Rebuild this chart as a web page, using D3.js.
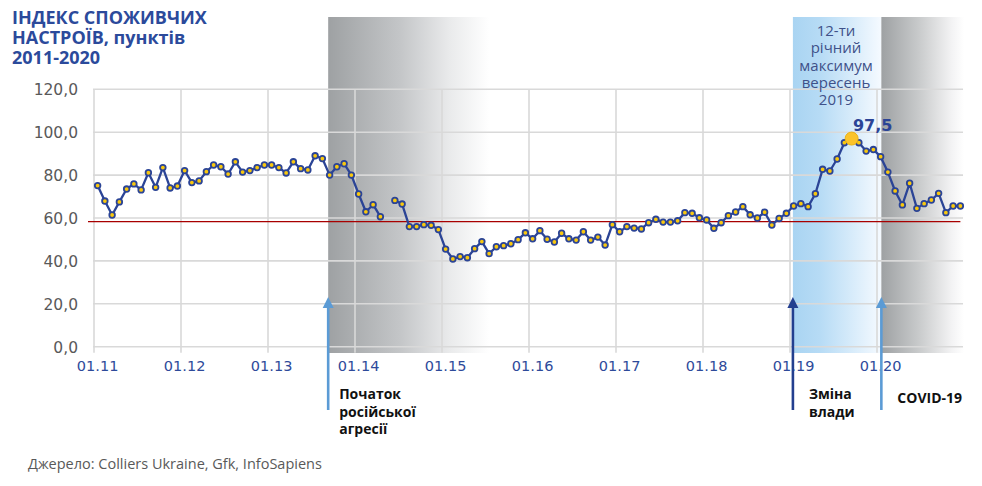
<!DOCTYPE html>
<html>
<head>
    <meta charset="utf-8">
    <title>Індекс споживчих настроїв</title>
    <style>
        body {
            margin: 0;
            background: #ffffff;
        }
        svg {
            display: block;
        }
        .grid line {
            stroke: #d9d9d9;
            stroke-width: 1.6px;
        }
        .ylab {
            font: 15.5px "DejaVu Sans", sans-serif;
            fill: #595959;
            text-anchor: end;
        }
        .xlab {
            font: 14.5px "DejaVu Sans", sans-serif;
            fill: #2e4a9a;
            text-anchor: middle;
        }
        .note {
            font: bold 14px "Open Sans", sans-serif;
            fill: #111111;
        }
    </style>
    <script src="https://cdnjs.cloudflare.com/ajax/libs/d3/7.8.5/d3.min.js"></script>
</head>
<body>
<script>
    // monthly index, Jan 2011 .. Dec 2020 (May 2014 has no value)
    const years = ['01.11', '01.12', '01.13', '01.14', '01.15', '01.16', '01.17', '01.18', '01.19', '01.20'];
    const values = [
        75.1, 67.9, 61.4, 67.5, 73.5, 75.9, 73.1, 81.1, 74.3, 83.5, 74.0, 74.9,
        82.1, 76.5, 77.3, 81.6, 84.7, 83.9, 80.5, 86.2, 81.4, 82.1, 83.5, 84.7,
        84.7, 83.5, 81.0, 86.2, 83.0, 82.4, 89.0, 87.7, 80.0, 83.9, 85.3, 80.0,
        71.2, 62.9, 66.2, 60.6, null, 68.2, 66.5, 56.0, 56.0, 56.9, 56.6, 54.6,
        45.5, 40.9, 42.0, 41.5, 45.7, 49.0, 43.4, 46.6, 47.1, 48.0, 49.9, 53.1,
        50.3, 54.1, 50.1, 48.8, 52.9, 50.3, 49.7, 53.6, 49.7, 51.1, 47.4, 56.9,
        53.6, 56.0, 55.3, 54.9, 57.8, 59.4, 58.1, 58.1, 58.7, 62.5, 62.2, 60.1,
        59.1, 55.2, 57.8, 61.1, 62.8, 65.3, 61.5, 60.0, 62.7, 56.7, 59.8, 62.2,
        65.6, 66.7, 65.3, 71.3, 82.7, 81.9, 87.5, 95.1, 97.5, 95.1, 91.2, 91.9,
        88.6, 81.4, 72.6, 66.1, 76.2, 64.5, 66.7, 68.4, 71.5, 62.5, 65.6, 65.6
    ];
    const yTicks = [0, 20, 40, 60, 80, 100, 120];
    const refLevel = 58.3;
    const peakIndex = 104;
    // shaded periods, in months from Jan 2011
    const periods = [
        {from: 32.3, to: 54.5, kind: 'gray'},
        {from: 96.4, to: 108.6, kind: 'blue'},
        {from: 108.6, to: 120, kind: 'gray2'}
    ];
    const events = [
        {at: 32.3, color: '#5b9bd5', lines: ['Початок', 'російської', 'агресії'], dx: 11},
        {at: 96.4, color: '#233f8f', lines: ['Зміна', 'влади'], dx: 16},
        {at: 108.6, color: '#5b9bd5', lines: ['COVID-19'], dx: 16}
    ];
    const peakNote = ['12-ти', 'річний', 'максимум', 'вересень', '2019'];

    const width = 982, height = 486;

    const x = d3.scaleLinear().domain([0, 120]).range([94, 964]);
    const y = d3.scaleLinear().domain([0, 120]).range([346.7, 89.3]);

    const svg = d3.select('body').append('svg')
        .attr('width', width)
        .attr('height', height);

    const defs = svg.append('defs');
    function grad(id, stops) {
        let g = defs.append('linearGradient').attr('id', id)
            .attr('x1', '0').attr('x2', '1').attr('y1', '0').attr('y2', '0');
        stops.forEach(s => g.append('stop').attr('offset', s[0]).attr('stop-color', s[1]));
    }
    grad('gray', [[0, '#9ea1a3'], [0.45, '#c4c6c8'], [0.75, '#e9eaeb'], [1, '#ffffff']]);
    grad('gray2', [[0, '#9ea1a3'], [0.45, '#c8cacb'], [0.85, '#f3f3f4'], [1, '#ffffff']]);
    grad('blue', [[0, '#a9d4f2'], [0.3, '#b6dbf5'], [1, '#f5faff']]);

    // shaded periods
    svg.append('g').selectAll('rect')
        .data(periods)
        .enter().append('rect')
        .attr('x', d => x(d.from))
        .attr('width', d => x(d.to) - x(d.from))
        .attr('y', 17)
        .attr('height', 353 - 17)
        .attr('fill', d => 'url(#' + d.kind + ')');

    // grid
    let grid = svg.append('g').attr('class', 'grid');
    grid.selectAll('.h')
        .data(yTicks)
        .enter().append('line')
        .attr('x1', x(0) - 1).attr('x2', x(120) - 1)
        .attr('y1', d => y(d)).attr('y2', d => y(d));
    grid.selectAll('.v')
        .data(years)
        .enter().append('line')
        .attr('x1', (d, i) => x(i * 12)).attr('x2', (d, i) => x(i * 12))
        .attr('y1', y(120)).attr('y2', y(0) + 6);

    svg.append('g').selectAll('text')
        .data(yTicks)
        .enter().append('text')
        .attr('class', 'ylab')
        .attr('x', 78)
        .attr('y', d => y(d) + 6)
        .text(d => d3.format('.1f')(d).replace('.', ','));

    svg.append('g').selectAll('text')
        .data(years)
        .enter().append('text')
        .attr('class', 'xlab')
        .attr('x', (d, i) => x(i * 12 + 0.5))
        .attr('y', 371)
        .text(d => d);

    // reference level
    svg.append('line')
        .attr('x1', 88).attr('x2', x(119.5))
        .attr('y1', y(refLevel)).attr('y2', y(refLevel))
        .attr('stroke', '#a80000')
        .attr('stroke-width', 1.3);

    // event arrows
    let ev = svg.append('g').selectAll('g')
        .data(events)
        .enter().append('g')
        .attr('transform', d => 'translate(' + x(d.at) + ',0)');
    ev.append('line')
        .attr('y1', 306).attr('y2', 410)
        .attr('stroke', d => d.color)
        .attr('stroke-width', 2.6);
    ev.append('path')
        .attr('d', 'M0,297L-5.5,308L5.5,308Z')
        .attr('fill', d => d.color);
    ev.append('text')
        .attr('class', 'note')
        .selectAll('tspan')
        .data(d => d.lines.map(l => ({l: l, dx: d.dx, n: d.lines.length})))
        .enter().append('tspan')
        .attr('x', d => d.dx)
        .attr('y', (d, i) => (d.n === 1 ? 403 : 399) + i * 17.5)
        .text(d => d.l);

    // data line
    let line = d3.line()
        .defined(d => d !== null)
        .x((d, i) => x(i + 0.5))
        .y(d => y(d));

    svg.append('path')
        .datum(values)
        .attr('fill', 'none')
        .attr('stroke', '#2b4496')
        .attr('stroke-width', 2.3)
        .attr('stroke-linejoin', 'round')
        .attr('d', line);

    svg.append('g').selectAll('circle')
        .data(values.map((v, i) => ({v: v, i: i})).filter(d => d.v !== null && d.i !== peakIndex))
        .enter().append('circle')
        .attr('cx', d => x(d.i + 0.5))
        .attr('cy', d => y(d.v))
        .attr('r', 2.8)
        .attr('fill', '#f9c80e')
        .attr('stroke', '#2b4496')
        .attr('stroke-width', 1.8);

    svg.append('circle')
        .attr('cx', x(peakIndex + 0.5))
        .attr('cy', y(values[peakIndex]) + 1)
        .attr('r', 6.5)
        .attr('fill', '#fbc32a')
        .attr('stroke', '#eab218')
        .attr('stroke-width', 1);

    svg.append('text')
        .attr('x', x(peakIndex + 0.5) + 21)
        .attr('y', 131)
        .attr('text-anchor', 'middle')
        .style('font', 'bold 16px "DejaVu Sans", sans-serif')
        .attr('fill', '#2b4496')
        .text(d3.format('.1f')(values[peakIndex]).replace('.', ','));

    svg.append('text')
        .attr('text-anchor', 'middle')
        .style('font', '15px "Open Sans", sans-serif')
        .attr('fill', '#3f5189')
        .selectAll('tspan')
        .data(peakNote)
        .enter().append('tspan')
        .attr('x', 836)
        .attr('y', (d, i) => 36 + i * 17.3)
        .text(d => d);

    // title and source
    svg.append('text')
        .style('font', 'bold 18px "Open Sans", sans-serif')
        .attr('fill', '#2b4a9b')
        .selectAll('tspan')
        .data(['ІНДЕКС СПОЖИВЧИХ', 'НАСТРОЇВ, пунктів', '2011-2020'])
        .enter().append('tspan')
        .attr('x', 12)
        .attr('y', (d, i) => 24 + i * 20)
        .text(d => d);

    svg.append('text')
        .attr('x', 28)
        .attr('y', 469)
        .style('font', '14.5px "Open Sans", sans-serif')
        .attr('fill', '#595959')
        .text('Джерело: Colliers Ukraine, Gfk, InfoSapiens');
</script>
</body>
</html>
